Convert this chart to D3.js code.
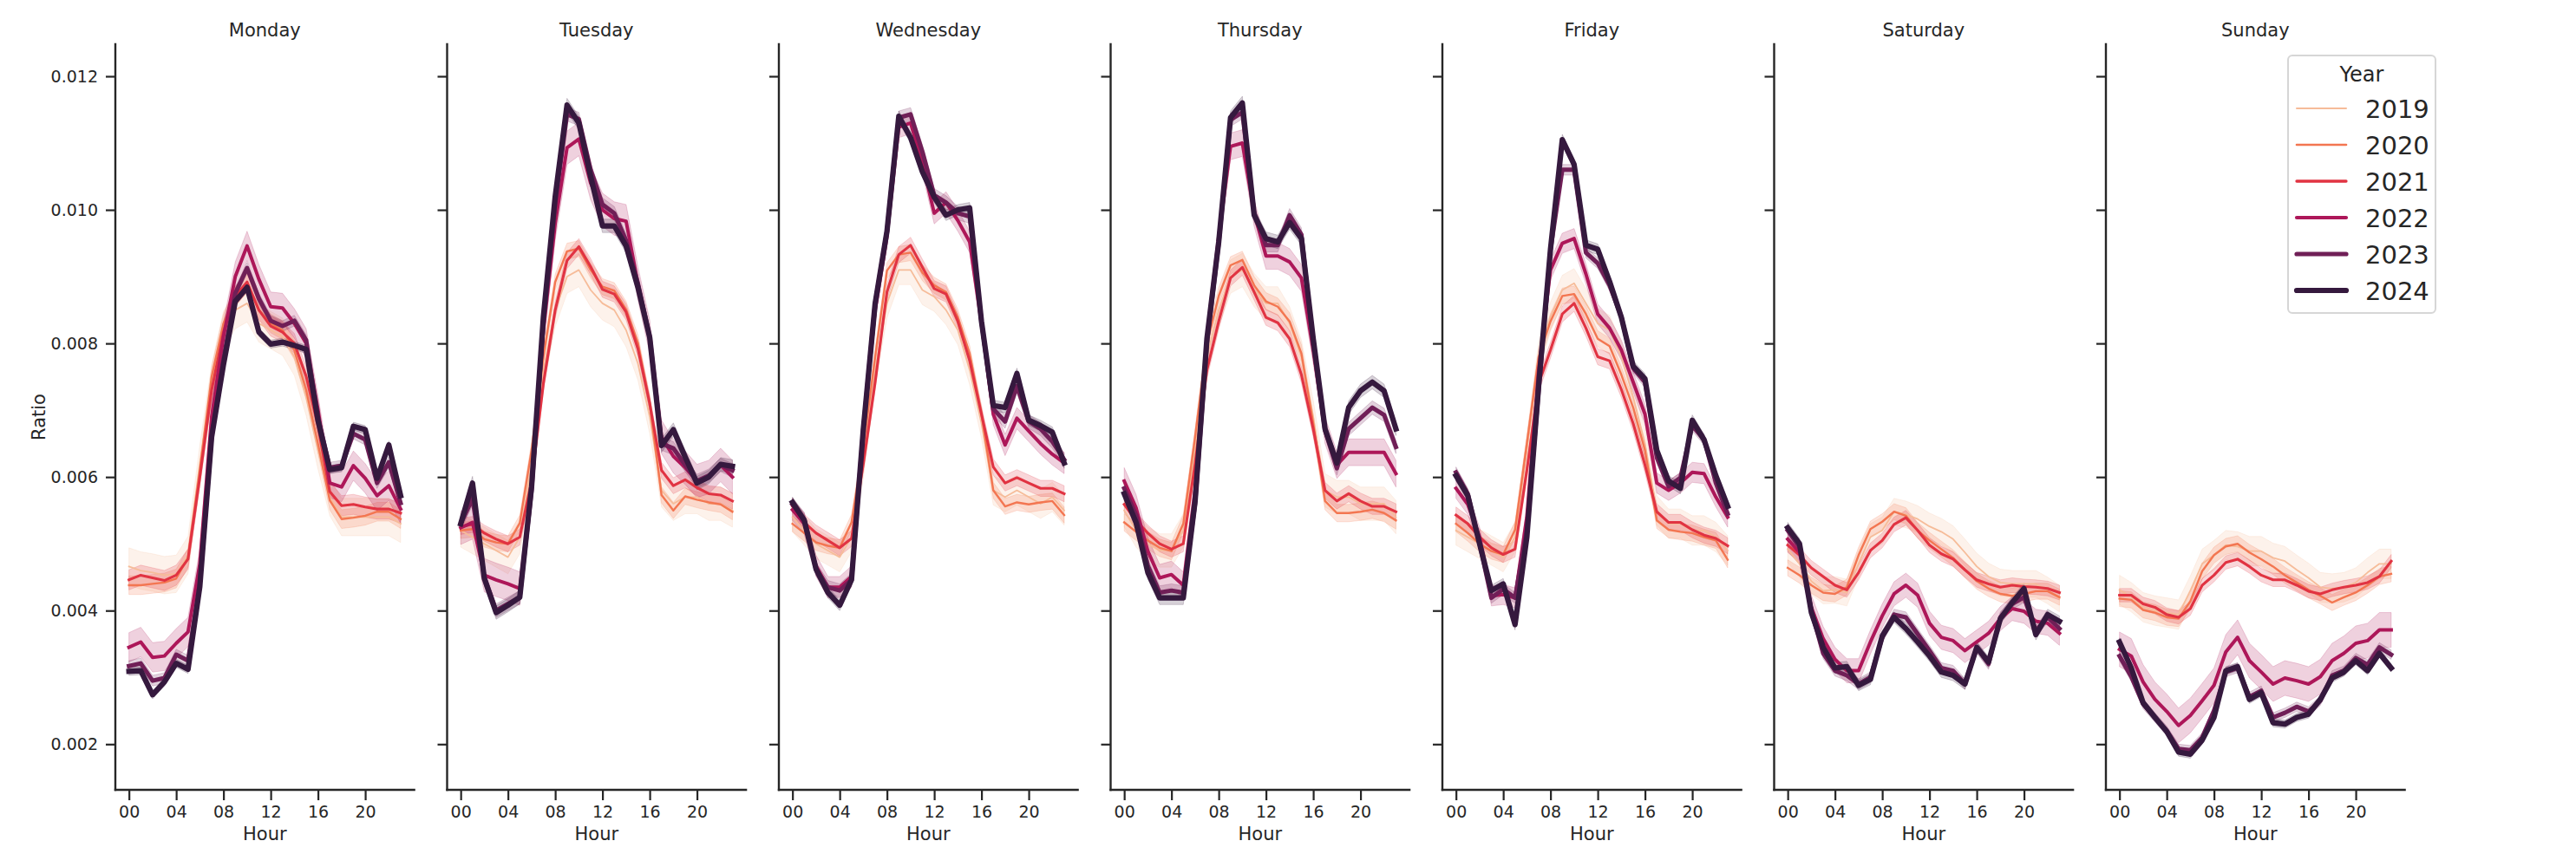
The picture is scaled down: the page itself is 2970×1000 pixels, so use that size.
<!DOCTYPE html>
<html>
<head>
<meta charset="utf-8">
<script src="https://cdn.jsdelivr.net/npm/d3@7"></script>
<style>
  html, body { margin: 0; padding: 0; background: #fff; }
  svg { display: block; font-family: "DejaVu Sans", sans-serif; }
</style>
</head>
<body>
<svg id="chart" width="2970" height="1000"></svg>
<script>
// ---------------- DATA ----------------
const days = ["Monday", "Tuesday", "Wednesday", "Thursday", "Friday", "Saturday", "Sunday"];
const years = [2019, 2020, 2021, 2022, 2023, 2024];
const hours = [0,1,2,3,4,5,6,7,8,9,10,11,12,13,14,15,16,17,18,19,20,21,22,23];
const xTickValues = [0, 4, 8, 12, 16, 20];
const yTickValues = [0.002, 0.004, 0.006, 0.008, 0.010, 0.012];

// mean ratio per hour, one row per day (Mon..Sun)
const ratio2019 = [
  [0.00466,0.00460,0.00457,0.00453,0.00455,0.00483,0.0062,0.0074,0.0082,0.0085,0.0086,0.0083,0.0082,0.0081,0.0078,0.0072,0.0064,0.0057,0.0054,0.0054,0.0054,0.0054,0.0054,0.0053],
  [0.0052,0.0051,0.0050,0.0049,0.0048,0.0051,0.0062,0.0076,0.0085,0.0090,0.0091,0.0088,0.0086,0.0085,0.0082,0.0077,0.0069,0.0058,0.0056,0.0057,0.0057,0.0056,0.0056,0.0055],
  [0.0054,0.0052,0.0050,0.0049,0.0048,0.0051,0.0062,0.0076,0.0086,0.0091,0.0091,0.0088,0.0087,0.0085,0.0082,0.0076,0.0068,0.0058,0.0057,0.0058,0.0057,0.0056,0.0057,0.0055],
  [0.0055,0.0052,0.0050,0.0049,0.0049,0.0052,0.0064,0.0078,0.0085,0.0090,0.0091,0.0088,0.0086,0.0086,0.0083,0.0078,0.0069,0.0058,0.0057,0.0057,0.0056,0.0056,0.0056,0.0054],
  [0.0052,0.0051,0.0050,0.0049,0.0048,0.0051,0.0064,0.0078,0.0084,0.0088,0.0089,0.0086,0.0083,0.0082,0.0078,0.0072,0.0065,0.0055,0.0053,0.0053,0.0052,0.0052,0.0051,0.0049],
  [0.00492,0.0047,0.00444,0.0043,0.00431,0.00427,0.0047,0.0051,0.0052,0.00548,0.00544,0.00537,0.00526,0.00518,0.00507,0.00487,0.00466,0.00451,0.00442,0.0044,0.0044,0.0044,0.0043,0.00418],
  [0.00431,0.0042,0.00405,0.0040,0.00397,0.00394,0.0043,0.0047,0.00483,0.00498,0.00496,0.00489,0.00489,0.00479,0.00474,0.00461,0.00449,0.00435,0.00433,0.00435,0.00442,0.00457,0.0047,0.0047]
];
const ratio2020 = [
  [0.00438,0.00438,0.0044,0.00442,0.00448,0.00479,0.0061,0.0075,0.0083,0.0087,0.0089,0.0085,0.0083,0.0082,0.0079,0.0073,0.0065,0.00565,0.00537,0.00539,0.00542,0.00548,0.00548,0.00537],
  [0.0052,0.00522,0.00507,0.00502,0.0050,0.00531,0.0064,0.0078,0.00892,0.00938,0.00942,0.0091,0.00885,0.00879,0.00851,0.00801,0.0071,0.00573,0.0055,0.00571,0.00566,0.00562,0.00559,0.00548],
  [0.0053,0.00516,0.00502,0.00497,0.00494,0.00532,0.00645,0.0078,0.00909,0.00933,0.00936,0.00906,0.00887,0.00877,0.00839,0.00785,0.00694,0.0058,0.00556,0.00562,0.00559,0.00562,0.00564,0.00543],
  [0.00532,0.00518,0.00505,0.00494,0.00489,0.0053,0.0066,0.0080,0.00871,0.00917,0.00925,0.00887,0.00863,0.00855,0.00833,0.00785,0.0068,0.00564,0.00546,0.00546,0.00548,0.00551,0.00546,0.00535],
  [0.0053,0.00516,0.0050,0.00489,0.00484,0.00521,0.0065,0.0078,0.00833,0.00871,0.00874,0.00844,0.00807,0.00796,0.00753,0.00704,0.0064,0.00535,0.00521,0.00518,0.00516,0.0051,0.00505,0.00476],
  [0.00464,0.00453,0.00438,0.00427,0.00425,0.00435,0.00483,0.00522,0.00533,0.00548,0.00542,0.0052,0.00505,0.00492,0.00479,0.00461,0.00444,0.00433,0.00425,0.00422,0.00425,0.00429,0.00429,0.0042],
  [0.00418,0.00416,0.00401,0.00397,0.0039,0.00388,0.00414,0.00459,0.00483,0.00496,0.0050,0.00487,0.00477,0.00466,0.00453,0.00442,0.00431,0.00422,0.00412,0.0042,0.00427,0.00438,0.00451,0.00455]
];
const ratio2021 = [
  [0.00446,0.00453,0.00449,0.00445,0.00453,0.00477,0.0060,0.0073,0.00817,0.00871,0.00892,0.0085,0.00826,0.00817,0.0080,0.00751,0.00676,0.00578,0.00557,0.00559,0.00555,0.00552,0.00552,0.00546],
  [0.00526,0.00529,0.00516,0.00507,0.0050,0.0051,0.00594,0.0074,0.0085,0.00924,0.00945,0.00915,0.00881,0.00874,0.00847,0.00792,0.0071,0.0061,0.00587,0.00596,0.00584,0.00575,0.00573,0.00564],
  [0.00556,0.00532,0.00516,0.00505,0.00494,0.00508,0.0062,0.00742,0.00877,0.00933,0.00947,0.00914,0.00882,0.00874,0.00833,0.00774,0.00694,0.00615,0.00591,0.00599,0.00591,0.00583,0.00583,0.00575],
  [0.00559,0.00535,0.00516,0.0050,0.00492,0.0050,0.0062,0.0076,0.00833,0.00898,0.00914,0.00877,0.00839,0.00831,0.00807,0.00753,0.00672,0.0058,0.00564,0.00575,0.00564,0.00556,0.00556,0.00548],
  [0.00543,0.0053,0.0051,0.00494,0.00484,0.00492,0.0061,0.0074,0.0079,0.00844,0.0086,0.00823,0.0078,0.00774,0.00731,0.0068,0.00618,0.00548,0.00532,0.00532,0.00521,0.00513,0.00508,0.00497],
  [0.00498,0.00483,0.00464,0.00451,0.00438,0.00431,0.00457,0.0049,0.00505,0.00529,0.00539,0.0052,0.00498,0.00485,0.00477,0.00461,0.00446,0.0044,0.00435,0.00438,0.00436,0.00435,0.00433,0.00427],
  [0.00423,0.00423,0.0041,0.00405,0.00394,0.0039,0.00403,0.00438,0.00453,0.00472,0.00477,0.00466,0.00453,0.00446,0.00446,0.00438,0.00429,0.00425,0.00431,0.00435,0.00438,0.00442,0.00451,0.00474]
];
const ratio2022 = [
  [0.00345,0.00353,0.0033,0.00332,0.00351,0.00368,0.0047,0.0069,0.0081,0.0090,0.00946,0.00896,0.00855,0.00853,0.0083,0.0080,0.00701,0.00591,0.00585,0.00617,0.00598,0.00572,0.00587,0.00552],
  [0.00524,0.00532,0.00453,0.00446,0.0044,0.00433,0.0058,0.0082,0.0098,0.01093,0.01106,0.0104,0.0100,0.00987,0.00983,0.0089,0.0081,0.0066,0.00631,0.00614,0.00594,0.0060,0.00618,0.0060],
  [0.00551,0.0053,0.00467,0.00435,0.00435,0.00451,0.0067,0.0085,0.0096,0.01124,0.0113,0.0107,0.00995,0.01011,0.00984,0.00952,0.0083,0.00694,0.00648,0.00688,0.00669,0.0065,0.00634,0.00621],
  [0.00594,0.00554,0.00489,0.00449,0.00454,0.00438,0.0058,0.0081,0.0096,0.01095,0.0110,0.00995,0.00931,0.00931,0.00922,0.00898,0.0079,0.0067,0.00618,0.00637,0.00637,0.00637,0.00637,0.00605],
  [0.00583,0.00559,0.0051,0.00422,0.00424,0.00419,0.0054,0.0076,0.0091,0.0095,0.00957,0.00904,0.00844,0.00823,0.0079,0.00742,0.00694,0.00591,0.0058,0.00591,0.00607,0.00605,0.0057,0.0054],
  [0.00507,0.00487,0.00405,0.00358,0.00327,0.0031,0.0031,0.00353,0.00392,0.00425,0.00438,0.00423,0.00381,0.0036,0.00355,0.0034,0.00353,0.00366,0.00388,0.00403,0.00399,0.00384,0.00381,0.00366],
  [0.00342,0.00332,0.00293,0.00267,0.00249,0.00228,0.00243,0.00265,0.00288,0.00338,0.0036,0.00325,0.00308,0.0029,0.00299,0.00295,0.0029,0.00301,0.00325,0.00336,0.00351,0.00355,0.00371,0.00371]
];
const ratio2023 = [
  [0.00317,0.00321,0.00295,0.00299,0.00334,0.00325,0.0044,0.0066,0.00776,0.00875,0.00913,0.00867,0.00834,0.00826,0.00834,0.00805,0.00689,0.00614,0.00617,0.00665,0.00656,0.00591,0.00622,0.00561],
  [0.0053,0.00568,0.0045,0.0040,0.0041,0.0042,0.0058,0.0083,0.0101,0.01143,0.01136,0.0106,0.01008,0.00995,0.00954,0.0089,0.0081,0.0065,0.00643,0.00618,0.00594,0.00602,0.00618,0.0061],
  [0.00559,0.00537,0.00462,0.00435,0.0043,0.00446,0.00672,0.0086,0.00968,0.01138,0.01143,0.01087,0.01022,0.01011,0.00995,0.0099,0.00833,0.00702,0.00683,0.00736,0.00683,0.00672,0.00653,0.00626],
  [0.00583,0.00543,0.00467,0.00427,0.0043,0.00427,0.0056,0.0080,0.0095,0.01135,0.01146,0.00995,0.00947,0.00947,0.00992,0.00963,0.0080,0.0067,0.00613,0.00672,0.00688,0.00704,0.00693,0.00645],
  [0.00607,0.00575,0.0050,0.00419,0.00432,0.00419,0.0052,0.0073,0.0094,0.0106,0.0106,0.00936,0.0092,0.00887,0.0084,0.00763,0.00742,0.00629,0.00586,0.00599,0.00677,0.00656,0.00591,0.00545],
  [0.0052,0.00495,0.0040,0.00336,0.0031,0.00303,0.0029,0.0030,0.0036,0.00394,0.0039,0.00365,0.0034,0.00314,0.0031,0.0029,0.00345,0.0032,0.0039,0.0041,0.0042,0.0037,0.0039,0.00373],
  [0.00332,0.00301,0.0026,0.0024,0.0022,0.00193,0.00191,0.0021,0.0025,0.00308,0.00314,0.00271,0.0028,0.0024,0.00247,0.00256,0.00249,0.00265,0.00303,0.0031,0.00329,0.00319,0.00345,0.00334]
];
const ratio2024 = [
  [0.00309,0.0031,0.00274,0.00293,0.00321,0.00312,0.00436,0.0066,0.00768,0.00863,0.00884,0.00817,0.00799,0.00802,0.00797,0.00791,0.00685,0.00611,0.00614,0.00676,0.00671,0.00598,0.00648,0.00572],
  [0.0053,0.00591,0.00448,0.00397,0.00408,0.0042,0.00585,0.0084,0.0102,0.01157,0.0113,0.0105,0.00976,0.00976,0.00946,0.00884,0.00809,0.00647,0.00671,0.0063,0.00591,0.0060,0.00619,0.00616],
  [0.00562,0.00535,0.00462,0.00427,0.00408,0.00446,0.00672,0.0086,0.00968,0.0114,0.01108,0.01057,0.01019,0.00992,0.0100,0.01003,0.00833,0.00707,0.00704,0.00755,0.00685,0.00677,0.00667,0.00621],
  [0.00575,0.00532,0.00457,0.00419,0.00419,0.00419,0.00564,0.00807,0.00952,0.01138,0.0116,0.00992,0.00957,0.00952,0.00981,0.00957,0.00807,0.00672,0.00621,0.00704,0.00729,0.00742,0.00729,0.00672],
  [0.00602,0.00572,0.0050,0.0043,0.0044,0.00379,0.0051,0.00737,0.00941,0.01105,0.01068,0.00947,0.00941,0.00893,0.00839,0.00766,0.00747,0.0064,0.00594,0.00583,0.00685,0.00656,0.00602,0.00556],
  [0.00524,0.0050,0.00397,0.00345,0.00314,0.00316,0.00288,0.00297,0.00362,0.0039,0.00373,0.00353,0.00332,0.00308,0.00303,0.0029,0.00345,0.00323,0.00388,0.00412,0.00433,0.00364,0.00394,0.00384],
  [0.00353,0.00314,0.00262,0.0024,0.00219,0.00188,0.00185,0.00206,0.0024,0.0031,0.00316,0.00267,0.00277,0.00232,0.0023,0.0024,0.00245,0.00267,0.00299,0.00308,0.00325,0.0031,0.00336,0.00314]
];
// confidence-band half widths, per year, Mon..Sun
const ciHalf2019 = [0.00028,0.00025,0.00022,0.00025,0.00022,0.00020,0.00022];
const ciHalf2020 = [0.00014,0.00012,0.00012,0.00013,0.00012,0.00012,0.00012];
const ciHalf2021 = [0.00015,0.00012,0.00012,0.00012,0.00012,0.00011,0.00010];
const ciHalf2022 = [0.00022,0.00025,0.00016,0.00020,0.00015,0.00018,0.00026];
const ciHalf2023 = [0.00008,0.00010,0.00010,0.00010,0.00008,0.00008,0.00007];
const ciHalf2024 = [0.00006,0.00010,0.00008,0.00010,0.00008,0.00008,0.00006];

const seriesByYear = { 2019: ratio2019, 2020: ratio2020, 2021: ratio2021, 2022: ratio2022, 2023: ratio2023, 2024: ratio2024 };
const ciByYear = { 2019: ciHalf2019, 2020: ciHalf2020, 2021: ciHalf2021, 2022: ciHalf2022, 2023: ciHalf2023, 2024: ciHalf2024 };

// ---------------- STYLE / LAYOUT ----------------
const colors = d3.scaleOrdinal().domain(years)
  .range(["#f6bc99", "#f37651", "#e13342", "#ad1759", "#701f57", "#35193e"]);
const widths = d3.scaleOrdinal().domain(years).range([1.8, 2.4, 3.1, 4.0, 5.0, 6.2]);
const legendWidths = d3.scaleOrdinal().domain(years).range([2.0, 2.6, 3.3, 4.2, 5.2, 6.2]);

const ink = "#262626";
const plotTop = 51, plotBottom = 911;
const plotH = plotBottom - plotTop;
const panelW = 344.6, panelX0 = 133, panelStep = 382.5;

const svg = d3.select("#chart");

const x = d3.scaleLinear().domain([-1.15, 24.15]).range([0, panelW]);
const y = d3.scaleLinear().domain([0.001316, 0.01248]).range([plotH, 0]);

days.forEach((day, di) => {
  const g = svg.append("g").attr("transform", `translate(${panelX0 + di * panelStep},${plotTop})`);

  years.forEach(yr => {
    const vals = seriesByYear[yr][di];
    const ci = ciByYear[yr][di];
    const pts = hours.map((h, i) => ({ h, v: vals[i] }));
    const area = d3.area()
      .x(d => x(d.h))
      .y0(d => y(d.v - ci))
      .y1(d => y(d.v + ci));
    g.append("path")
      .attr("d", area(pts))
      .attr("fill", colors(yr))
      .attr("fill-opacity", 0.2)
      .attr("stroke", colors(yr))
      .attr("stroke-opacity", 0.2)
      .attr("stroke-width", 1);
  });
  years.forEach(yr => {
    const vals = seriesByYear[yr][di];
    const pts = hours.map((h, i) => ({ h, v: vals[i] }));
    const line = d3.line().x(d => x(d.h)).y(d => y(d.v));
    g.append("path")
      .attr("d", line(pts))
      .attr("fill", "none")
      .attr("stroke", colors(yr))
      .attr("stroke-width", widths(yr))
      .attr("stroke-linejoin", "round")
      .attr("stroke-linecap", "square");
  });

  const yAxis = d3.axisLeft(y).tickValues(yTickValues).tickSize(11).tickPadding(9)
    .tickFormat(di === 0 ? d3.format(".3f") : () => "");
  const ya = g.append("g").call(yAxis);
  ya.select(".domain").attr("d", `M0,0V${plotH}`);
  const xAxis = d3.axisBottom(x).tickValues(xTickValues).tickSize(12).tickPadding(7)
    .tickFormat(d3.format("02d"));
  const xa = g.append("g").attr("transform", `translate(0,${plotH})`).call(xAxis);
  xa.select(".domain").attr("d", `M0,0H${panelW}`);

  [ya, xa].forEach(a => {
    a.select(".domain").attr("stroke", ink).attr("stroke-width", 2.4).attr("stroke-linecap", "square");
    a.selectAll(".tick line").attr("stroke", ink).attr("stroke-width", 2.2);
    a.selectAll(".tick text").attr("fill", ink).attr("font-size", 19)
      .attr("font-family", "DejaVu Sans");
  });

  g.append("text").attr("x", panelW / 2).attr("y", 42 - plotTop)
    .attr("text-anchor", "middle").attr("font-size", 21).attr("fill", ink).text(day);
  g.append("text").attr("x", panelW / 2).attr("y", 969 - plotTop)
    .attr("text-anchor", "middle").attr("font-size", 21).attr("fill", ink).text("Hour");
  if (di === 0) {
    g.append("text")
      .attr("transform", `translate(${45 - panelX0},${plotH / 2}) rotate(-90)`)
      .attr("text-anchor", "middle").attr("dy", "0.35em")
      .attr("font-size", 21).attr("fill", ink).text("Ratio");
  }
});

// ---------------- LEGEND ----------------
const lg = svg.append("g").attr("transform", "translate(2638,64)");
lg.append("rect").attr("width", 170).attr("height", 297).attr("rx", 5)
  .attr("fill", "#fff").attr("fill-opacity", 0.8)
  .attr("stroke", "#d6d6d6").attr("stroke-width", 2);
lg.append("text").attr("x", 85).attr("y", 30).attr("text-anchor", "middle")
  .attr("font-size", 24).attr("fill", ink).text("Year");
years.forEach((yr, i) => {
  const cy = 61 + i * 42;
  lg.append("line").attr("x1", 10).attr("x2", 67).attr("y1", cy).attr("y2", cy)
    .attr("stroke", colors(yr)).attr("stroke-width", legendWidths(yr)).attr("stroke-linecap", "round");
  lg.append("text").attr("x", 89).attr("y", cy + 11)
    .attr("font-size", 29).attr("fill", ink).text(yr);
});
</script>
</body>
</html>
